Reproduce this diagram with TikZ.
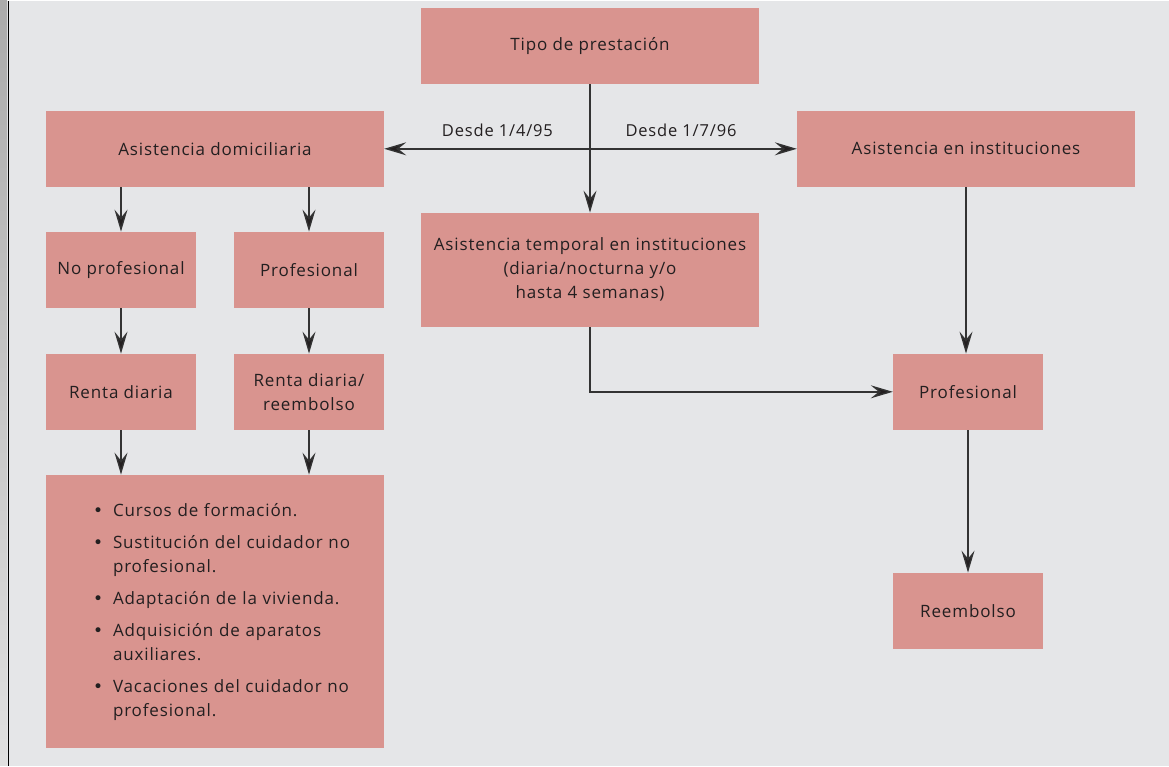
\documentclass[tikz,border=0pt]{standalone}
\usepackage{fontspec}
\setmainfont{Open Sans}[LetterSpace=5]
\newfontfamily\vineta{DejaVu Sans}
\usetikzlibrary{arrows.meta,positioning}

\definecolor{caja}{HTML}{D9948F}
\definecolor{fondo}{HTML}{E5E6E8}
\definecolor{linea}{HTML}{333333}
\definecolor{tinta}{HTML}{231F20}

\newcommand{\punto}{{\vineta •}}

\begin{document}
\begin{tikzpicture}[x=1pt, y=-1pt,
  caja/.style={rectangle, fill=caja, text=tinta, align=center, inner sep=0pt, minimum height=76pt, font=\fontsize{17}{24}\selectfont},
  flecha/.style={draw=linea, line width=1.4pt, -{Stealth[length=22pt, width=13pt, inset=8pt, fill=tinta]}},
  etiqueta/.style={text=tinta, font=\fontsize{16.5}{20}\selectfont, anchor=base, yshift=12pt}]
  % fondo y franja lateral
  \fill[fondo] (0,0) rectangle (1169,765);
  \shade[top color=black!33, bottom color=black!12] (0,0) rectangle (7,765);
  \draw[black, line width=1.6pt] (8.3,0) -- (8.3,765);

  \node[caja, minimum width=338pt] (tipo) at (590,45) {Tipo de prestación};
  \node[caja, minimum width=338pt] (domic) at (215,148) {Asistencia domiciliaria};
  \node[caja, minimum width=338pt] (instit) at (966,148) {Asistencia en instituciones};
  \node[caja, minimum width=338pt, minimum height=114pt] (temporal) at (590,269) {Asistencia temporal en instituciones\\(diaria/nocturna y/o\\hasta 4 semanas)};
  \node[caja, minimum width=150pt] (noprof) at (121,269) {No profesional};
  \node[caja, minimum width=150pt] (prof) at (309,269) {Profesional};
  \node[caja, minimum width=150pt] (renta) at (121,391) {Renta diaria};
  \node[caja, minimum width=150pt] (rentareem) at (309,391) {Renta diaria/\\reembolso};
  \node[caja, minimum width=338pt, minimum height=273pt, text width=244pt, align=left] (ayudas) at (215,610.5) {%
    \begin{tabular}{@{}l@{\hspace{10pt}}l@{}}
      \punto & Cursos de formación.\\[8pt]
      \punto & Sustitución del cuidador no\\
             & profesional.\\[8pt]
      \punto & Adaptación de la vivienda.\\[8pt]
      \punto & Adquisición de aparatos\\
             & auxiliares.\\[8pt]
      \punto & Vacaciones del cuidador no\\
             & profesional.
    \end{tabular}};
  \node[caja, minimum width=150pt] (profinst) at (968,391) {Profesional};
  \node[caja, minimum width=150pt] (reemb) at (968,610) {Reembolso};

  % conectores
  \coordinate (cruce) at (tipo.south |- domic.east);
  \draw[flecha] (tipo) -- (temporal);
  \draw[flecha] (cruce) -- node[etiqueta, pos=.45] {Desde 1/4/95} (domic);
  \draw[flecha] (cruce) -- node[etiqueta, pos=.44] {Desde 1/7/96} (instit);
  \draw[flecha] (domic.south -| noprof) -- (noprof);
  \draw[flecha] (domic.south -| prof) -- (prof);
  \draw[flecha] (noprof) -- (renta);
  \draw[flecha] (prof) -- (rentareem);
  \draw[flecha] (renta) -- (renta |- ayudas.north);
  \draw[flecha] (rentareem) -- (rentareem |- ayudas.north);
  \draw[flecha] (instit) -- (instit |- profinst.north);
  \draw[flecha] (temporal) |- (profinst);
  \draw[flecha] (profinst) -- (reemb);
\end{tikzpicture}
\end{document}
